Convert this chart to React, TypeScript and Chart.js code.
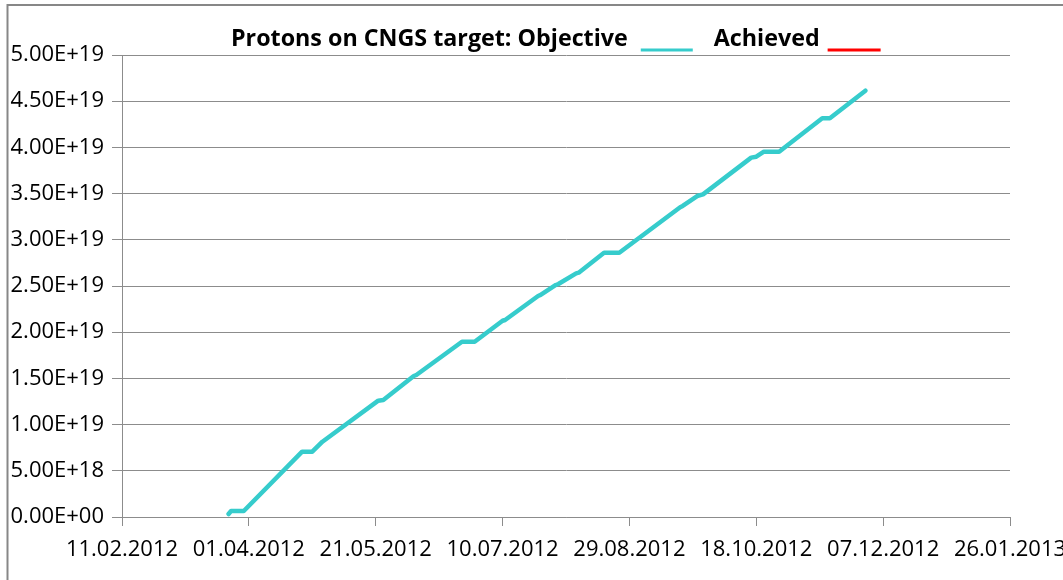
import React, { useEffect, useRef } from "react";
import { Chart, registerables } from "chart.js";

Chart.register(...registerables);

// Objective series (dates and cumulative protons on target)
const objectiveDates: string[] = [
  "2012-03-24", "2012-03-25", "2012-03-30", "2012-04-22", "2012-04-26",
  "2012-04-30", "2012-05-22", "2012-05-24", "2012-06-05", "2012-06-06",
  "2012-06-24", "2012-06-29", "2012-07-10", "2012-07-11", "2012-07-24",
  "2012-07-25", "2012-07-31", "2012-08-01", "2012-08-08", "2012-08-09",
  "2012-08-19", "2012-08-25", "2012-09-18", "2012-09-19", "2012-09-25",
  "2012-09-27", "2012-10-16", "2012-10-18", "2012-10-21", "2012-10-27",
  "2012-11-13", "2012-11-16", "2012-11-30",
];
const objectiveValues: number[] = [
  0.32e18, 0.65e18, 0.65e18, 7.07e18, 7.07e18,
  8.15e18, 12.59e18, 12.66e18, 15.26e18, 15.37e18,
  18.97e18, 18.97e18, 21.24e18, 21.32e18, 23.92e18,
  24.03e18, 25.11e18, 25.22e18, 26.37e18, 26.44e18,
  28.6e18, 28.6e18, 33.52e18, 33.66e18, 34.77e18,
  34.92e18, 38.89e18, 38.99e18, 39.53e18, 39.53e18,
  43.15e18, 43.15e18, 46.14e18,
];
// Achieved series (no data drawn in the reference)
const achievedDates: string[] = [];
const achievedValues: number[] = [];

const xTickDates: string[] = [
  "2012-02-11", "2012-04-01", "2012-05-21", "2012-07-10",
  "2012-08-29", "2012-10-18", "2012-12-07", "2013-01-26",
];
const yMin = 0;
const yMax = 5e19;
const yStep = 5e18;

const titleText = "Protons on CNGS target: Objective";
const achievedText = "Achieved";

const objectiveColor = "rgb(54, 204, 204)";
const achievedColor = "#ff0000";
const gridColor = "#8c8c8c";
const FONT = "'Open Sans', 'DejaVu Sans', sans-serif";

const toMs = (d: string) => new Date(d + "T00:00:00Z").getTime();
const pad2 = (n: number) => (n < 10 ? "0" + n : "" + n);
const fmtDate = (ms: number) => {
  const d = new Date(ms);
  return pad2(d.getUTCDate()) + "." + pad2(d.getUTCMonth() + 1) + "." + d.getUTCFullYear();
};
const fmtSci = (v: number) => {
  const s = Number(v).toExponential(2);
  const [m, e] = s.split("e");
  const sign = e[0] === "-" ? "-" : "+";
  const digits = e.replace(/[+-]/, "");
  return m + "E" + sign + pad2(parseInt(digits, 10));
};

const decorPlugin = {
  id: "decor",
  afterDraw(chart: any) {
    const ctx = chart.ctx as CanvasRenderingContext2D;
    ctx.save();
    // frame
    ctx.strokeStyle = "#878787";
    ctx.lineWidth = 2;
    ctx.beginPath();
    ctx.moveTo(7.5, 580);
    ctx.lineTo(7.5, 5);
    ctx.lineTo(1063, 5);
    ctx.stroke();
    // title
    let size = 22;
    ctx.font = `bold ${size}px ${FONT}`;
    const w0 = ctx.measureText(titleText).width;
    size = Math.max(14, Math.min(26, size * 397 / w0));
    ctx.font = `bold ${size}px ${FONT}`;
    ctx.fillStyle = "#000";
    ctx.textAlign = "left";
    ctx.textBaseline = "alphabetic";
    const x0 = 231;
    const baseY = 46;
    ctx.fillText(titleText, x0, baseY);
    const tEnd = x0 + ctx.measureText(titleText).width;
    const l1s = tEnd + 13;
    const l1e = l1s + 52;
    ctx.lineWidth = 3;
    ctx.strokeStyle = objectiveColor;
    ctx.beginPath();
    ctx.moveTo(l1s, 50);
    ctx.lineTo(l1e, 50);
    ctx.stroke();
    const ax = l1e + 21;
    ctx.fillText(achievedText, ax, baseY);
    const aEnd = ax + ctx.measureText(achievedText).width;
    ctx.strokeStyle = achievedColor;
    ctx.beginPath();
    ctx.moveTo(aEnd + 8, 50);
    ctx.lineTo(aEnd + 61, 50);
    ctx.stroke();
    ctx.restore();
  },
};

export default function App() {
  const ref = useRef<HTMLCanvasElement | null>(null);
  useEffect(() => {
    document.body.style.margin = "0";
    if (!ref.current) return;
    const chart = new Chart(ref.current, {
      type: "line",
      data: {
        datasets: [
          {
            label: "Objective",
            data: objectiveDates.map((d, i) => ({ x: toMs(d), y: objectiveValues[i] })),
            borderColor: objectiveColor,
            backgroundColor: objectiveColor,
            borderWidth: 4.5,
            pointRadius: 0,
            tension: 0,
            borderJoinStyle: "round",
            borderCapStyle: "round",
          },
          {
            label: "Achieved",
            data: achievedDates.map((d, i) => ({ x: toMs(d), y: achievedValues[i] })),
            borderColor: achievedColor,
            backgroundColor: achievedColor,
            borderWidth: 3,
            pointRadius: 0,
          },
        ],
      },
      options: {
        animation: false,
        responsive: false,
        devicePixelRatio: 1,
        layout: { padding: { left: 0, top: 55, right: 53, bottom: 0 } },
        plugins: {
          legend: { display: false },
          tooltip: { enabled: false },
          title: { display: false },
        },
        scales: {
          x: {
            type: "linear",
            min: toMs(xTickDates[0]),
            max: toMs(xTickDates[xTickDates.length - 1]),
            afterBuildTicks: (scale: any) => {
              scale.ticks = xTickDates.map((d) => ({ value: toMs(d) }));
            },
            afterFit: (scale: any) => {
              scale.height = 63;
              scale.paddingLeft = 0;
              scale.paddingRight = 0;
            },
            ticks: {
              autoSkip: false,
              maxRotation: 0,
              minRotation: 0,
              padding: 11,
              color: "#000",
              font: { family: FONT, size: 22 },
              callback: (v: any) => fmtDate(Number(v)),
            },
            grid: {
              drawOnChartArea: false,
              drawTicks: true,
              tickLength: 9,
              color: gridColor,
              lineWidth: 1,
            },
            border: { display: true, color: gridColor, width: 1 },
          },
          y: {
            min: yMin,
            max: yMax,
            afterFit: (scale: any) => {
              scale.width = 122;
              scale.paddingTop = 0;
              scale.paddingBottom = 0;
            },
            ticks: {
              stepSize: yStep,
              padding: 8,
              color: "#000",
              font: { family: FONT, size: 22 },
              callback: (v: any) => fmtSci(Number(v)),
            },
            grid: {
              color: gridColor,
              lineWidth: 1,
              drawTicks: true,
              tickLength: 10,
            },
            border: { display: true, color: gridColor, width: 1 },
          },
        },
      },
      plugins: [decorPlugin],
    } as any);
    return () => chart.destroy();
  }, []);
  return (
    <div style={{ position: "relative", width: 1063, height: 580, background: "#fff" }}>
      <canvas ref={ref} width={1063} height={580} />
    </div>
  );
}
